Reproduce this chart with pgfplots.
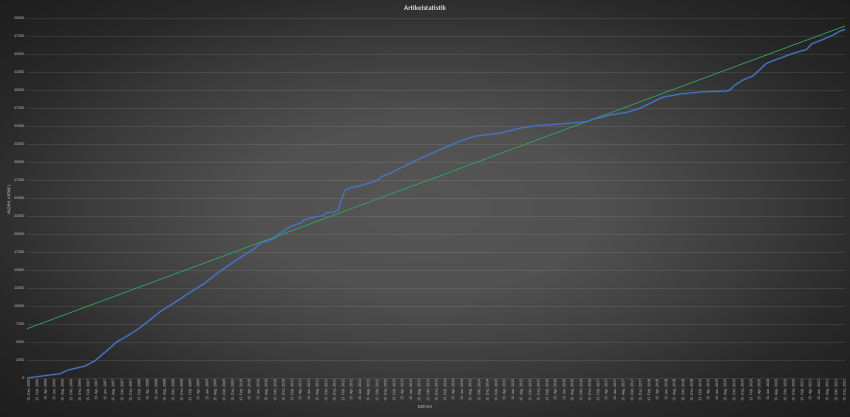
\documentclass[border=0pt]{standalone}
\usepackage{fontspec}
\setmainfont{Carlito}
\usepackage{pgfplots}
\pgfplotsset{compat=1.18}
\definecolor{bgin}{HTML}{555555}
\definecolor{bgmid}{HTML}{3B3B3B}
\definecolor{bgout}{HTML}{1C1C1C}
\definecolor{lblue}{HTML}{4874C8}
\definecolor{lgreen}{HTML}{2FA55A}
\definecolor{txt}{HTML}{C4C4C4}
\pgfdeclareradialshading{bgshade}{\pgfpoint{0bp}{0bp}}{%
  color(0bp)=(bgin); color(10bp)=(bgin!85!bgmid); color(20bp)=(bgmid); color(27bp)=(bgout!60!bgmid); color(36bp)=(bgout); color(50bp)=(bgout)}
\begin{document}
\begin{tikzpicture}
\shade[shading=bgshade] (0pt,0pt) rectangle (850pt,416pt);
\begin{axis}[
  at={(27pt,38pt)}, anchor=south west,
  scale only axis, width=818pt, height=360pt,
  xmin=0, xmax=192.5, ymin=0, ymax=50000,
  axis line style={draw=none},
  tick style={draw=none},
  ytick={0,2500,...,50000},
  xtick={0,2,...,192},
  ymajorgrids,
  major grid style={white, opacity=0.09, line width=0.6pt},
  scaled y ticks=false,
  /pgf/number format/assume math mode=true,
  yticklabel={\pgfmathprintnumber[fixed,1000 sep={}]{\tick}},
  yticklabel style={font=\fontsize{4}{4}\selectfont, text=txt, anchor=east, inner sep=1pt, xshift=-1.5pt},
  xticklabel={\pgfmathtruncatemacro\mm{mod(round(\tick)+11,12)}\pgfmathtruncatemacro\yy{2005+floor((round(\tick)+11)/12)}15. \ifcase\mm Jan.\or Feb.\or Mär.\or Apr.\or Mai\or Jun.\or Jul.\or Aug.\or Sep.\or Okt.\or Nov.\or Dez.\fi\ \yy},
  xticklabel style={font=\fontsize{4}{4}\selectfont, text=txt, rotate=90, anchor=east, inner sep=1pt, yshift=-1.5pt},
  clip=false,
]
\addplot[lblue, opacity=0.22, line width=2.4pt, line join=round] coordinates {
(0,0) (7.8,600) (9.6,1100) (13.6,1650) (16.0,2400) (18.8,3800) (21.2,5050) (23.5,5800) (25.9,6700) (28.9,8050) (31.3,9200) (34.8,10500) (38.4,11900) (41.9,13200) (44.2,14300) (46.6,15300) (50.1,16700) (53.6,18000) (54.8,18700) (58.4,19400) (59.5,20100) (61.9,21000) (64.2,21500) (64.9,21700) (65.2,22000) (67.3,22300) (69.6,22550) (70.5,22950) (72.5,23100) (73.2,23300) (74.0,24700) (74.8,26100) (76.0,26400) (78.4,26700) (80.7,27100) (82.3,27400) (83.5,28000) (85.4,28400) (87.0,28900) (92.5,30500) (97.2,31700) (101.9,32900) (105.4,33600) (111.3,34000) (116.0,34700) (120.7,35100) (125.4,35280) (131.7,35600) (133.2,35930) (137.2,36530) (141.1,36900) (144.2,37450) (147.4,38380) (149.6,38990) (153.6,39440) (158.4,39720) (164.6,39860) (165.4,40000) (166.6,40690) (168.5,41390) (170.8,41940) (174.0,43700) (176.4,44250) (180.2,45080) (183.5,45640) (184.6,46390) (187.4,47040) (189.7,47640) (191.3,48190) (192.5,48430)
};
\addplot[lgreen, line width=0.75pt] coordinates {(0,6850) (192.5,48900)};
\addplot[lblue, line width=1.0pt, line join=round] coordinates {
(0,0) (7.8,600) (9.6,1100) (13.6,1650) (16.0,2400) (18.8,3800) (21.2,5050) (23.5,5800) (25.9,6700) (28.9,8050) (31.3,9200) (34.8,10500) (38.4,11900) (41.9,13200) (44.2,14300) (46.6,15300) (50.1,16700) (53.6,18000) (54.8,18700) (58.4,19400) (59.5,20100) (61.9,21000) (64.2,21500) (64.9,21700) (65.2,22000) (67.3,22300) (69.6,22550) (70.5,22950) (72.5,23100) (73.2,23300) (74.0,24700) (74.8,26100) (76.0,26400) (78.4,26700) (80.7,27100) (82.3,27400) (83.5,28000) (85.4,28400) (87.0,28900) (92.5,30500) (97.2,31700) (101.9,32900) (105.4,33600) (111.3,34000) (116.0,34700) (120.7,35100) (125.4,35280) (131.7,35600) (133.2,35930) (137.2,36530) (141.1,36900) (144.2,37450) (147.4,38380) (149.6,38990) (153.6,39440) (158.4,39720) (164.6,39860) (165.4,40000) (166.6,40690) (168.5,41390) (170.8,41940) (174.0,43700) (176.4,44250) (180.2,45080) (183.5,45640) (184.6,46390) (187.4,47040) (189.7,47640) (191.3,48190) (192.5,48430)
};
\end{axis}
\node[text=white!85!black, font=\fontsize{7}{8}\selectfont\bfseries] at (425pt,408pt) {Artikelstatistik};
\node[text=txt, rotate=90, font=\fontsize{4.4}{5}\selectfont] at (9pt,216pt) {ANZAHL ARTIKEL};
\node[text=txt, font=\fontsize{4.6}{5}\selectfont] at (425pt,9pt) {DATUM};
\pgfresetboundingbox
\path[use as bounding box] (0pt,0pt) rectangle (850pt,416pt);
\end{tikzpicture}
\end{document}
